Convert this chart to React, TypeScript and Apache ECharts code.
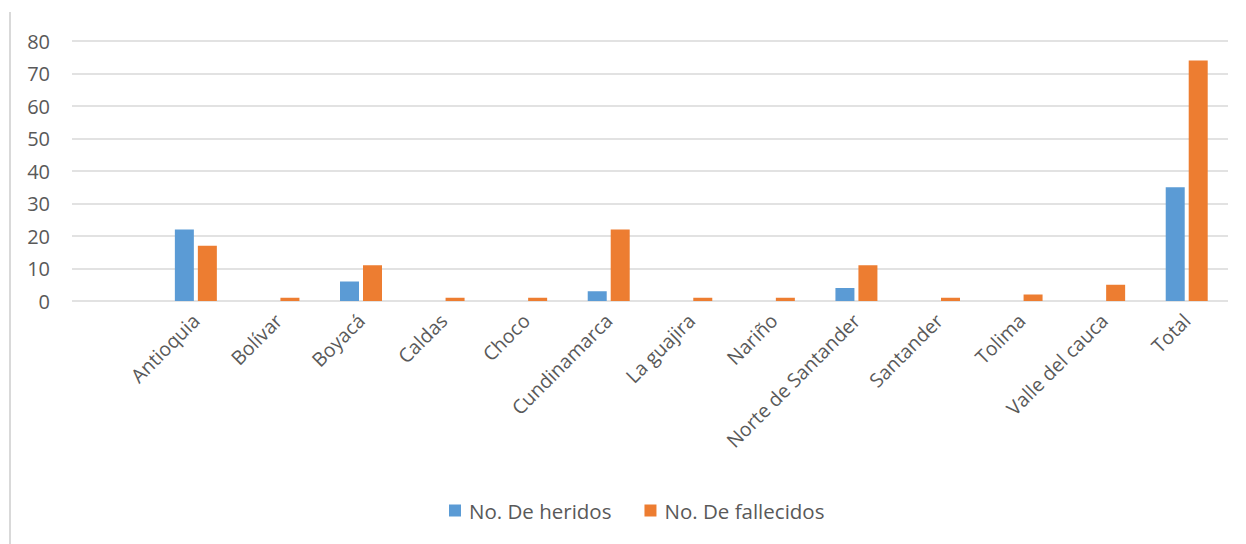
import React, { useEffect, useRef } from "react";
import * as echarts from "echarts";

const categories = ["", "Antioquia", "Bolívar", "Boyacá", "Caldas", "Choco", "Cundinamarca", "La guajira", "Nariño", "Norte de Santander", "Santander", "Tolima", "Valle del cauca", "Total"];
const heridos = [null, 22, 0, 6, 0, 0, 3, 0, 0, 4, 0, 0, 0, 35];
const fallecidos = [null, 17, 1, 11, 1, 1, 22, 1, 1, 11, 1, 2, 5, 74];
const yTicks = { min: 0, max: 80, interval: 10 };
const seriesNames = ["No. De heridos", "No. De fallecidos"];

const FONT = "'Open Sans', sans-serif";

export default function App() {
  const ref = useRef<HTMLDivElement>(null);
  useEffect(() => {
    const chart = echarts.init(ref.current!, null, { renderer: "svg" });
    chart.setOption({
      animation: false,
      backgroundColor: "#ffffff",
      textStyle: { fontFamily: FONT },
      grid: { left: 72, right: 18, top: 41, bottom: 243, containLabel: false },
      legend: {
        bottom: 18,
        left: 444,
        itemWidth: 12,
        itemHeight: 12,
        itemGap: 33,
        icon: "rect",
        textStyle: { fontSize: 20.5, color: "#595959", fontFamily: FONT, padding: [0, 0, 0, 3] },
        data: seriesNames,
      },
      xAxis: {
        type: "category",
        data: categories,
        axisLine: { show: false },
        axisTick: { show: false },
        axisLabel: {
          interval: 0,
          rotate: 45,
          fontSize: 19.5,
          color: "#595959",
          margin: 16,
          fontFamily: FONT,
        },
      },
      yAxis: {
        type: "value",
        min: yTicks.min,
        max: yTicks.max,
        interval: yTicks.interval,
        axisLine: { show: false },
        axisTick: { show: false },
        axisLabel: { fontSize: 20, color: "#595959", margin: 22, fontFamily: FONT },
        splitLine: { lineStyle: { color: "#d9d9d9", width: 1.5 } },
      },
      series: [
        {
          name: seriesNames[0],
          type: "bar",
          data: heridos,
          barWidth: 19,
          barGap: "21%",
          itemStyle: { color: "#5b9bd5" },
        },
        {
          name: seriesNames[1],
          type: "bar",
          data: fallecidos,
          barWidth: 19,
          itemStyle: { color: "#ed7d31" },
        },
      ],
      graphic: [
        {
          type: "line",
          shape: { x1: 10, y1: 12, x2: 10, y2: 544 },
          style: { stroke: "#d9d9d9", lineWidth: 2 },
        },
      ],
    });
    return () => chart.dispose();
  }, []);
  return <div ref={ref} style={{ position: "fixed", left: 0, top: 0, width: 1246, height: 544 }} />;
}
